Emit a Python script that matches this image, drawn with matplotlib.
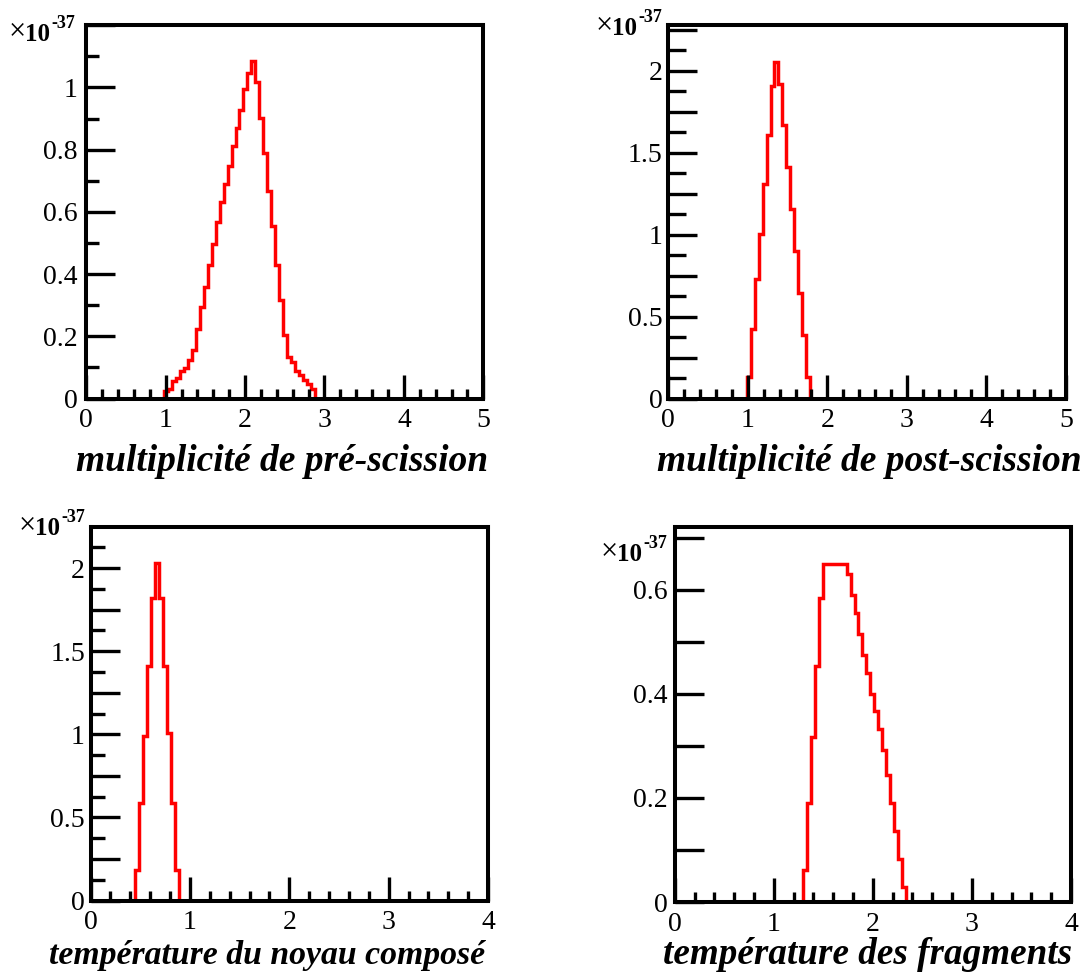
import matplotlib
matplotlib.use('Agg')
import matplotlib.pyplot as plt
import numpy as np
from matplotlib.ticker import FixedLocator, MultipleLocator, NullLocator
from matplotlib.transforms import ScaledTranslation

W, H = 1087, 974

# histogram contents (units of 1e-37)
pre_start, pre_width = 0.98, 0.05
pre_vals = [0.024, 0.031, 0.055, 0.067, 0.090, 0.099, 0.123, 0.157, 0.225, 0.295,
            0.359, 0.429, 0.497, 0.566, 0.631, 0.690, 0.746, 0.813, 0.869, 0.927,
            0.994, 1.047, 1.085, 1.017, 0.902, 0.789, 0.668, 0.555, 0.429, 0.316,
            0.203, 0.135, 0.117, 0.090, 0.077, 0.058, 0.047, 0.031]

post_start, post_width = 0.985, 0.05
post_vals = [0.130, 0.427, 0.728, 1.006, 1.307, 1.606, 1.904, 2.053, 1.921, 1.667,
             1.413, 1.154, 0.898, 0.642, 0.386, 0.130]

tcn_start, tcn_width = 0.448, 0.04
tcn_vals = [0.185, 0.586, 0.987, 1.412, 1.819, 2.030, 1.819, 1.412, 1.007, 0.586, 0.185]

tfr_start, tfr_width = 1.295, 0.04
tfr_vals = [0.0615, 0.190, 0.318, 0.454, 0.584, 0.649, 0.649, 0.649, 0.649, 0.649,
            0.649, 0.631, 0.590, 0.555, 0.515, 0.475, 0.440, 0.399, 0.367, 0.333,
            0.292, 0.244, 0.190, 0.137, 0.083, 0.029]

titles = ['multiplicité de pré-scission', 'multiplicité de post-scission',
          'température du noyau composé', 'température des fragments']

yticks_a = [0, 0.2, 0.4, 0.6, 0.8, 1.0, 1.2]
ylabels_a = ['0', '0.2', '0.4', '0.6', '0.8', '1', '']
yticks_b = [0, 0.25, 0.5, 0.75, 1.0, 1.25, 1.5, 1.75, 2.0, 2.25]
ylabels_b = ['0', '', '0.5', '', '1', '', '1.5', '', '2', '']
yticks_c = [0, 0.1, 0.2, 0.3, 0.4, 0.5, 0.6, 0.7]
ylabels_c = ['0', '', '0.2', '', '0.4', '', '0.6', '']

plt.rcParams['font.family'] = ['Liberation Serif', 'DejaVu Serif']

fig = plt.figure(figsize=(W / 100, H / 100), dpi=100)


def px(x, y):
    return x / W, 1 - y / H


panels = [
    dict(box=(86.2, 25.3, 483.3, 398.5), xmax=5, ymax=1.2, start=pre_start, width=pre_width,
         vals=pre_vals, yt=yticks_a, yl=ylabels_a, yminor=0.1, ylen_min=9.5, ypad=6,
         title_at=(488, 471), title_size=27, exp_at=(9, 39), zero_shift=0),
    dict(box=(668.3, 25.3, 1066, 398.7), xmax=5, ymax=2.277, start=post_start, width=post_width,
         vals=post_vals, yt=yticks_b, yl=ylabels_b, yminor=0.125, ylen_min=13, ypad=4,
         title_at=(1082, 471), title_size=27, exp_at=(596, 33), zero_shift=13),
    dict(box=(90.5, 527, 488, 900.5), xmax=4, ymax=2.247, start=tcn_start, width=tcn_width,
         vals=tcn_vals, yt=yticks_b, yl=ylabels_b, yminor=0.125, ylen_min=10, ypad=4,
         title_at=(485, 964), title_size=24.3, exp_at=(19, 533), zero_shift=0),
    dict(box=(674.7, 527, 1071, 902), xmax=4, ymax=0.721, start=tfr_start, width=tfr_width,
         vals=tfr_vals, yt=yticks_c, yl=ylabels_c, yminor=None, ylen_min=0, ypad=5,
         title_at=(1072, 964), title_size=26.7, exp_at=(601, 559), zero_shift=11),
]

for i, p in enumerate(panels):
    l, t, r, b = p['box']
    ax = fig.add_axes([l / W, 1 - b / H, (r - l) / W, (b - t) / H])
    edges = p['start'] + p['width'] * np.arange(len(p['vals']) + 1)
    ax.stairs(p['vals'], edges, baseline=0, color='#ff0000', linewidth=2.5)
    ax.set_xlim(0, p['xmax'])
    ax.set_ylim(0, p['ymax'])
    ax.set_axisbelow(False)

    ax.xaxis.set_major_locator(MultipleLocator(1))
    ax.xaxis.set_minor_locator(MultipleLocator(0.2))
    ax.yaxis.set_major_locator(FixedLocator(p['yt']))
    ax.set_yticklabels(p['yl'])
    if p['yminor']:
        ax.yaxis.set_minor_locator(MultipleLocator(p['yminor']))
    else:
        ax.yaxis.set_minor_locator(NullLocator())

    for s in ax.spines.values():
        s.set_linewidth(2.9)
    ax.tick_params(which='both', direction='in', width=2.4, color='black',
                   labelsize=20, top=False, right=False)
    ax.tick_params(axis='x', which='major', length=17.3, pad=7)
    ax.tick_params(axis='x', which='minor', length=7.2)
    ax.tick_params(axis='y', which='major', length=21, pad=p['ypad'])
    ax.tick_params(axis='y', which='minor', length=p['ylen_min'])

    if p['zero_shift']:
        lab = ax.xaxis.get_major_ticks()[0].label1
        lab.set_transform(lab.get_transform() +
                          ScaledTranslation(p['zero_shift'] / 100, 0, fig.dpi_scale_trans))

    fig.text(*px(*p['title_at']), titles[i], ha='right', va='baseline',
             fontsize=p['title_size'], fontweight='bold', fontstyle='italic')

    # x10^-37 multiplier, built from three pieces like the ROOT label
    t1 = fig.text(*px(*p['exp_at']), '×', ha='left', va='baseline', fontsize=22)
    t2 = ax.annotate('10', xy=(0.95, 0), xycoords=t1, ha='left', va='bottom',
                     fontsize=18, fontweight='bold', annotation_clip=False)
    ax.annotate('-37', xy=(1.02, 0.8), xycoords=t2, ha='left', va='baseline',
                fontsize=13, fontweight='bold', annotation_clip=False)

fig.savefig('out.png', dpi=100)
